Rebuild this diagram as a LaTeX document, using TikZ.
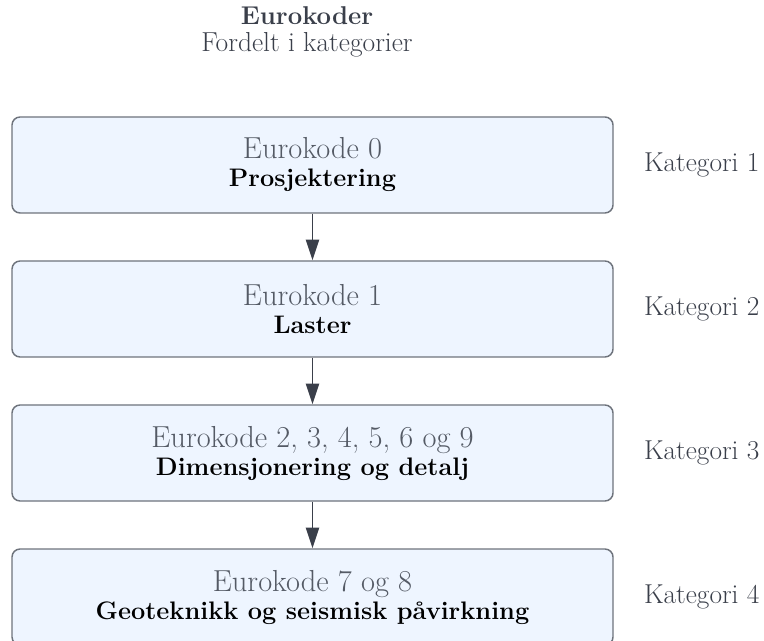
\documentclass[tikz,border=0pt]{standalone}
\usepackage{fontspec}
\usepackage{tikz}
\usetikzlibrary{arrows.meta,positioning}

\definecolor{boxfill}{HTML}{EEF5FF}
\definecolor{boxline}{HTML}{6E737C}
\definecolor{kodegray}{HTML}{545A65}
\definecolor{labelgray}{HTML}{3A3F4A}

\tikzset{
  kodebox/.style={draw=boxline, fill=boxfill, line width=1.1pt, rounded corners=6pt,
    minimum width=450.75pt, minimum height=72pt, inner sep=0pt, align=center,
    font=\fontsize{19}{21}\selectfont},
  kat/.style={text=labelgray, inner sep=0pt, font=\fontsize{20.5}{22}\selectfont},
  pil/.style={draw=labelgray, line width=1.1pt, -{Triangle[length=15.5pt,width=10pt]}}
}

\begin{document}
\begin{tikzpicture}[x=0.75pt,y=-0.75pt]
      \useasboundingbox (0,0) rectangle (764,641);

      \node[text=labelgray, align=center, font=\fontsize{20.6}{20}\selectfont] (tittel) at (307,32)
        {{\bfseries\fontsize{19.3}{20}\selectfont Eurokoder}\\Fordelt i kategorier};

      \foreach \i/\kode/\navn in {1/0/Prosjektering,2/1/Laster,
          3/{2, 3, 4, 5, 6 og 9}/Dimensjonering og detalj,
          4/7 og 8/Geoteknikk og seismisk påvirkning}
      {
        \node[kodebox] (b\i) at (312.5,{21+144*\i})
          {{\color{kodegray}\fontsize{22.8}{21}\selectfont Eurokode \kode}\\{\bfseries\color{black}\navn}};
        \node[kat, right=22.5pt of b\i] (kat\i) {Kategori \i};
      }

      \foreach \i [count=\j from 2] in {1,...,3}
      \draw[pil] (b\i.south) -- (b\j.north);
    \end{tikzpicture}
\end{document}
